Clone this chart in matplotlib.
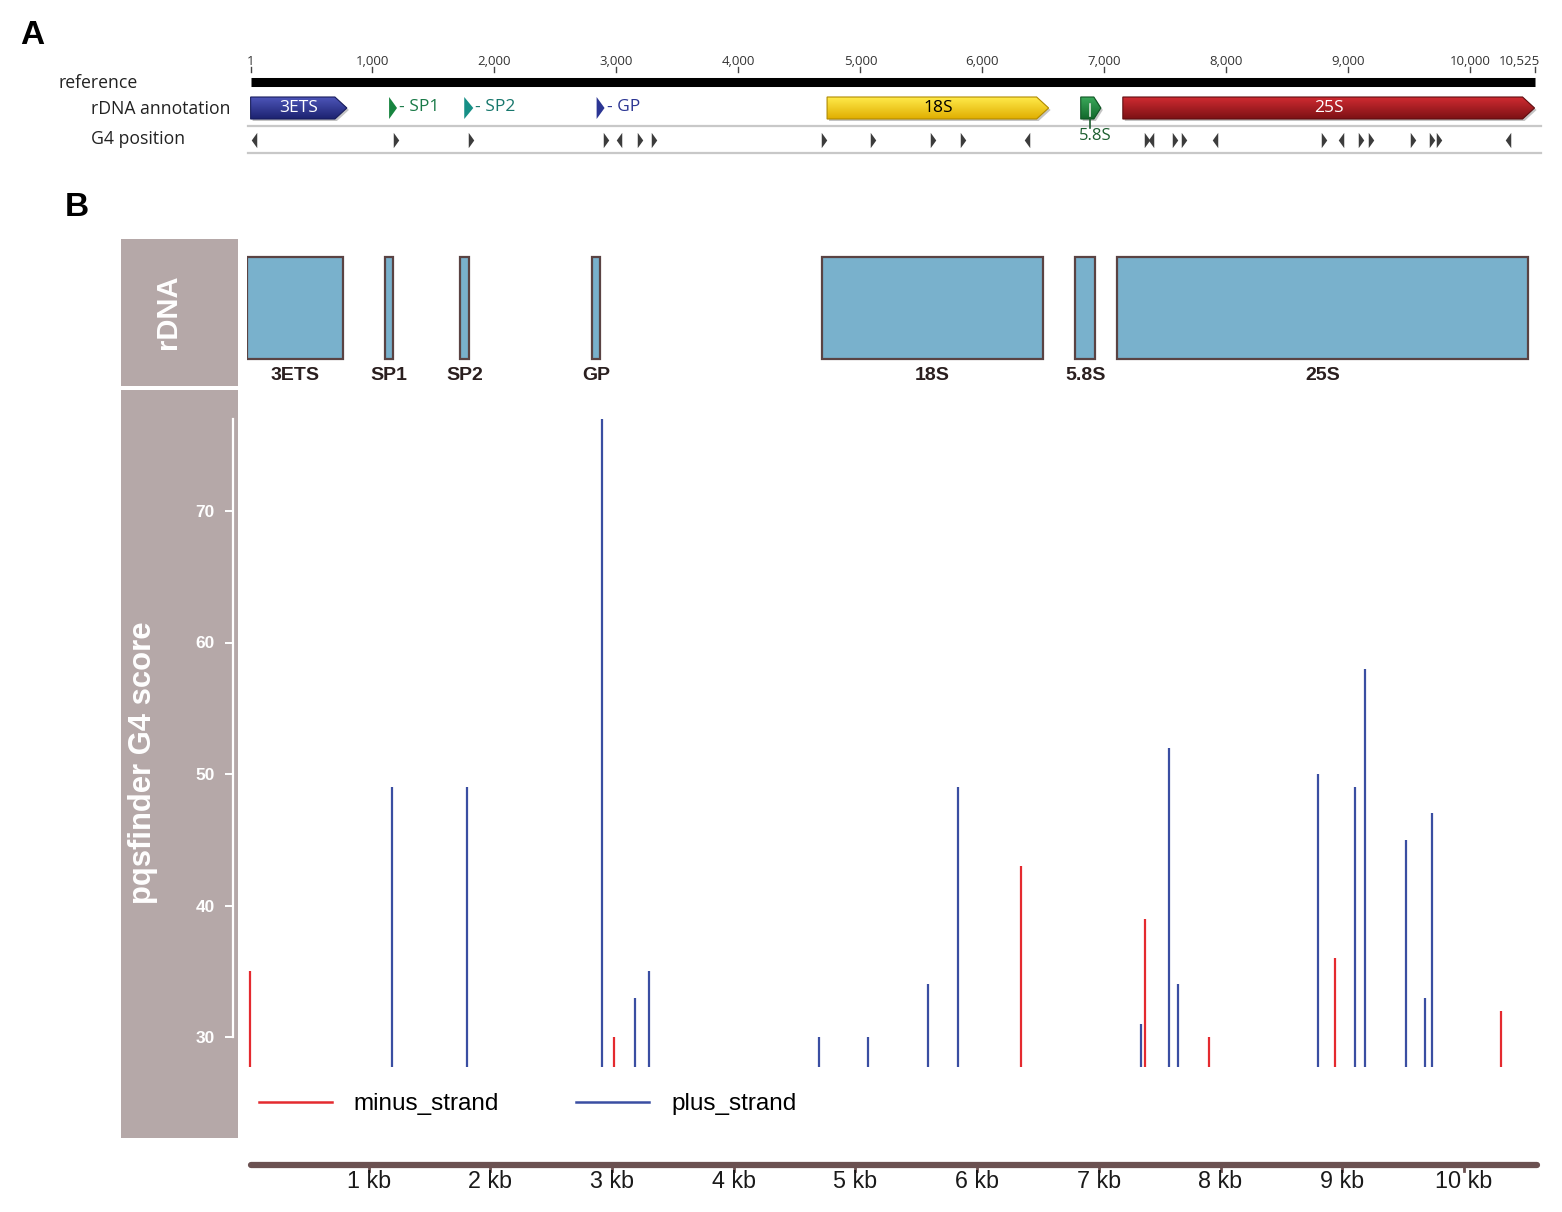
import numpy as np
import matplotlib
matplotlib.use("Agg")
import matplotlib.pyplot as plt
from matplotlib.patches import Polygon, Rectangle
from matplotlib.colors import LinearSegmentedColormap
from matplotlib.lines import Line2D
from matplotlib.path import Path

W, H = 1562, 1212

# ---- data ----
genome_len = 10525
regions = ["3ETS", "SP1", "SP2", "GP", "18S", "5.8S", "25S"]
region_start = [1, 1136, 1752, 2837, 4726, 6805, 7150]
region_end = [790, 1201, 1826, 2902, 6542, 6970, 10525]

g4_pos = [25, 1192, 1809, 2918, 3017, 3189, 3304, 4701, 5104, 5597, 5843, 6361,
          7347, 7380, 7577, 7651, 7906, 8802, 8942, 9106, 9188, 9525, 9681, 9738, 10305]
g4_strand = ["-", "+", "+", "+", "-", "+", "+", "+", "+", "+", "+", "-",
             "+", "-", "+", "+", "-", "+", "-", "+", "+", "+", "+", "+", "-"]
g4_score = [35, 49, 49, 77, 30, 33, 35, 30, 30, 34, 49, 43,
            31, 39, 52, 34, 30, 50, 36, 49, 58, 45, 33, 47, 32]

ruler_ticks = [1, 1000, 2000, 3000, 4000, 5000, 6000, 7000, 8000, 9000, 10000, 10525]
kb_ticks = [1, 2, 3, 4, 5, 6, 7, 8, 9, 10]
score_ticks = [30, 40, 50, 60, 70]
legend_labels = ["minus_strand", "plus_strand"]

# ---- styles ----
RED = "#e42a2f"
BLUE = "#3a4ea2"
STRIP = "#b5a8a8"
BOX_FACE = "#79b1cc"
BOX_EDGE = "#5a4343"
AXIS_BROWN = "#6b5151"
SNAP_FONT = "Open Sans"

arrow_style = {
    "3ETS": ("#4d55b8", "#1c2270", "#171c5c", "white"),
    "18S": ("#ffea4a", "#e0ae00", "#b08a00", "black"),
    "25S": ("#cf2b31", "#7c1115", "#5e0d10", "white"),
    "5.8S": ("#3aa85a", "#12692c", "#0e5523", "#1c5e2f"),
}
tick_style = {
    "SP1": ("#17843f", "#1a7a48"),
    "SP2": ("#168f86", "#17776c"),
    "GP": ("#2b3593", "#2b3593"),
}

plt.rcParams["font.family"] = ["Liberation Sans", "DejaVu Sans"]

fig = plt.figure(figsize=(W / 100, H / 100), dpi=100)


def px_box(x0, y0, x1, y1):
    return [x0 / W, 1 - y1 / H, (x1 - x0) / W, (y1 - y0) / H]


def grad_arrow(ax, x0, x1, y0, y1, head, c_top, c_bot, edge, shadow):
    ym = (y0 + y1) / 2
    verts = [(x0, y0), (x1 - head, y0), (x1, ym), (x1 - head, y1), (x0, y1)]
    sh = Polygon([(x + shadow[0], y + shadow[1]) for x, y in verts], closed=True,
                 facecolor="#c4c4c4", edgecolor="none", zorder=1)
    ax.add_patch(sh)
    poly = Polygon(verts, closed=True, facecolor="none", edgecolor=edge, lw=0.8, zorder=3)
    ax.add_patch(poly)
    cmap = LinearSegmentedColormap.from_list("g", [c_top, c_bot])
    grad = np.linspace(0, 1, 64).reshape(-1, 1)
    im = ax.imshow(grad, cmap=cmap, extent=(x0, x1, y1, y0), aspect="auto", zorder=2)
    im.set_clip_path(poly)


# ================= panel A =================
A_OFF, A_SCALE = 250.5, 0.122
ax_a = fig.add_axes(px_box(A_OFF - 20, 40, 1550, 160))
a_xlim = (-20 / A_SCALE, (1550 - A_OFF) / A_SCALE)
pxa = 1 / A_SCALE  # bp per pixel

fig.text(32 / W, 1 - 35 / H, "A", fontsize=24, fontweight="bold", ha="center", va="center")
for lbl, x, y in [("reference", 58, 83), ("rDNA annotation", 91, 109), ("G4 position", 91, 139)]:
    fig.text(x / W, 1 - y / H, lbl, family=SNAP_FONT, fontsize=12.7, ha="left", va="center",
             color="#222222")

ax_a.plot([1, genome_len], [81.5, 81.5], color="black", lw=6.5, solid_capstyle="butt")
for t in ruler_ticks:
    ax_a.plot([t, t], [67, 72], color="#444444", lw=1)
    if t == genome_len:
        ax_a.text(t + 5 * pxa, 61.5, f"{t:,}", ha="right", va="center", fontsize=9.5,
                  family=SNAP_FONT, color="#333333")
    else:
        ax_a.text(t, 61.5, f"{t:,}", ha="center", va="center", fontsize=9.5,
                  family=SNAP_FONT, color="#333333")

for yl in (126, 153):
    ax_a.plot([-2 * pxa, genome_len + 6 * pxa], [yl, yl], color="#c8c8c8", lw=1.6)

for name, s, e in zip(regions, region_start, region_end):
    if name in arrow_style:
        c_top, c_bot, edge, tcol = arrow_style[name]
        if name == "5.8S":
            grad_arrow(ax_a, s, e, 97, 119, 7 * pxa, c_top, c_bot, edge, (2 * pxa, 2))
            xm = s + (e - s) * 0.45
            ax_a.plot([xm, xm], [104, 128], color=tcol, lw=1.2, zorder=4)
            ax_a.plot([xm, xm], [104, 116], color="#dfeee0", lw=1.2, zorder=5)
            ax_a.text((s + e) / 2 + 4 * pxa, 136, name, ha="center", va="center", fontsize=12,
                      family=SNAP_FONT, color=tcol)
        else:
            grad_arrow(ax_a, s, e, 97, 119, 12 * pxa, c_top, c_bot, edge, (2 * pxa, 2))
            ax_a.text((s + e) / 2, 108, name, ha="center", va="center", fontsize=12.5,
                      family=SNAP_FONT, color=tcol, zorder=6)
    else:
        tri_col, lab_col = tick_style[name]
        ax_a.add_patch(Polygon([(s, 97), (e, 108), (s, 119)], closed=True,
                               facecolor=tri_col, edgecolor="none", zorder=3))
        ax_a.text(e + 2 * pxa, 107, "- " + name, ha="left", va="center", fontsize=12.5,
                  family=SNAP_FONT, color=lab_col)

right_tri = Path([(-0.18, -0.5), (0.18, 0.0), (-0.18, 0.5), (-0.18, -0.5)],
                 [Path.MOVETO, Path.LINETO, Path.LINETO, Path.CLOSEPOLY])
left_tri = Path([(0.18, -0.5), (-0.18, 0.0), (0.18, 0.5), (0.18, -0.5)],
                [Path.MOVETO, Path.LINETO, Path.LINETO, Path.CLOSEPOLY])
g4_pos_arr = np.array(g4_pos)
g4_score_arr = np.array(g4_score)
plus = np.array([s == "+" for s in g4_strand])
ax_a.plot(g4_pos_arr[plus], np.full(plus.sum(), 139.5), ls="none", marker=right_tri,
          ms=11, color="#3c3c3c", mew=0)
ax_a.plot(g4_pos_arr[~plus], np.full((~plus).sum(), 139.5), ls="none", marker=left_tri,
          ms=11, color="#3c3c3c", mew=0)

ax_a.set_xlim(*a_xlim)
ax_a.set_ylim(160, 40)
ax_a.axis("off")

# ================= panel B =================
B_OFF, B_SCALE = 246.9, 0.1217
b_xlim = (0, (1545 - B_OFF) / B_SCALE)

fig.text(77 / W, 1 - 207 / H, "B", fontsize=24, fontweight="bold", ha="center", va="center")
fig.add_artist(Rectangle((121 / W, 1 - 386 / H), (238 - 121) / W, (386 - 239) / H,
                         transform=fig.transFigure, facecolor=STRIP, edgecolor="none", zorder=-1))
fig.add_artist(Rectangle((121 / W, 1 - 1138 / H), (238 - 121) / W, (1138 - 390) / H,
                         transform=fig.transFigure, facecolor=STRIP, edgecolor="none", zorder=-1))
fig.text(168 / W, 1 - 312 / H, "rDNA", rotation=90, color="white", fontsize=21,
         fontweight="bold", ha="center", va="center")
fig.text(143 / W, 1 - 763 / H, "pqsfinder G4 score", rotation=90, color="white", fontsize=22.3,
         fontweight="bold", ha="center", va="center")

# rDNA track
ax_r = fig.add_axes(px_box(B_OFF, 239, 1545, 390))
for name, s, e in zip(regions, region_start, region_end):
    ax_r.add_patch(Rectangle((s, 257), e - s, 102, facecolor=BOX_FACE, edgecolor=BOX_EDGE, lw=1.6))
    ax_r.text((s + e) / 2, 375, name, ha="center", va="center", fontsize=14,
              fontweight="bold", color="#2a1f1f")
ax_r.set_xlim(*b_xlim)
ax_r.set_ylim(390, 239)
ax_r.axis("off")

# score track
PX_PER_UNIT = 13.15
s_top = 30 + (1037 - 400) / PX_PER_UNIT
s_bot = 30 + (1037 - 1075) / PX_PER_UNIT
baseline = 30 + (1037 - 1067) / PX_PER_UNIT

ax_b = fig.add_axes(px_box(B_OFF, 400, 1545, 1075))
ax_b.set_facecolor("none")
ax_b.vlines(g4_pos_arr[~plus], baseline, g4_score_arr[~plus], color=RED, lw=1.6)
ax_b.vlines(g4_pos_arr[plus], baseline, g4_score_arr[plus], color=BLUE, lw=1.6)
ax_b.set_xlim(*b_xlim)
ax_b.set_ylim(s_bot, s_top)
for sp in ("top", "right", "bottom"):
    ax_b.spines[sp].set_visible(False)
ax_b.spines["left"].set_position(("outward", 10))
ax_b.spines["left"].set_color("white")
ax_b.spines["left"].set_linewidth(1.6)
ax_b.spines["left"].set_bounds(min(g4_score), max(g4_score))
ax_b.set_xticks([])
ax_b.set_yticks(score_ticks)
ax_b.tick_params(axis="y", colors="white", length=6, width=1.4, labelsize=12.5, pad=7)
for lab in ax_b.get_yticklabels():
    lab.set_fontweight("bold")

handles = [Line2D([], [], color=RED, lw=1.8), Line2D([], [], color=BLUE, lw=1.8)]
fig.legend(handles, legend_labels, loc="center left", bbox_to_anchor=(259 / W, 1 - 1104 / H),
           ncol=2, frameon=False, fontsize=17.5, handlelength=3.0, handletextpad=0.9,
           columnspacing=3.17, borderpad=0, borderaxespad=0)

# genome axis
ax_g = fig.add_axes(px_box(B_OFF, 1140, 1545, 1212))
view_start = (251 - B_OFF) / B_SCALE
view_end = (1537 - B_OFF) / B_SCALE
ax_g.plot([view_start, view_end], [1165, 1165], color=AXIS_BROWN, lw=4.5, solid_capstyle="round")
for k in kb_ticks:
    ax_g.plot([k * 1000, k * 1000], [1165, 1171], color=AXIS_BROWN, lw=2)
    ax_g.text(k * 1000, 1181, f"{k} kb", ha="center", va="center", fontsize=16.8, color="#1a1a1a")
ax_g.set_xlim(*b_xlim)
ax_g.set_ylim(1212, 1140)
ax_g.axis("off")

fig.savefig("out.png", dpi=100)
